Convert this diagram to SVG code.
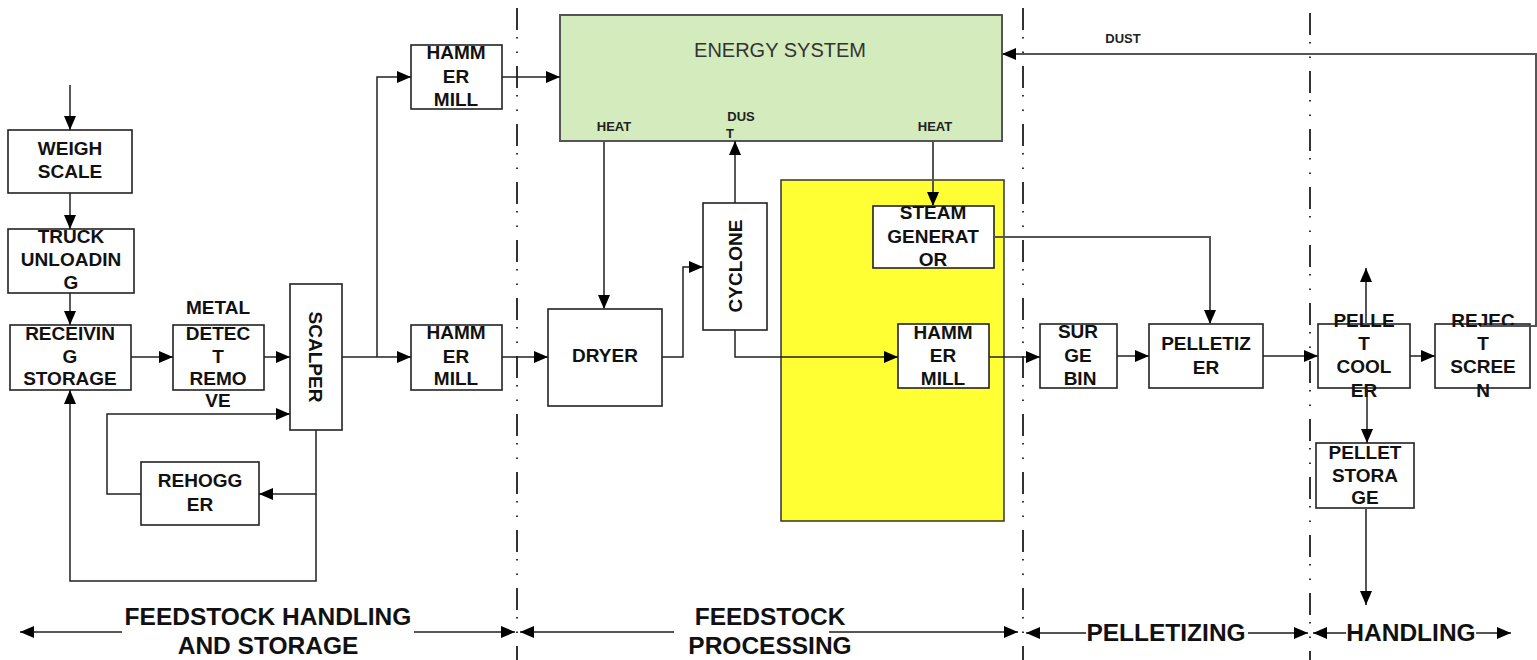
<svg xmlns="http://www.w3.org/2000/svg" width="1537" height="660" viewBox="0 0 1537 660">
<style>
.box{fill:#fff;stroke:#222;stroke-width:1.6}
.t{font-family:"Liberation Sans",Arial,sans-serif;font-weight:bold;font-size:19px;fill:#111;text-anchor:middle}
.s{font-family:"Liberation Sans",Arial,sans-serif;font-weight:bold;font-size:13px;fill:#222;text-anchor:middle}
.b{font-family:"Liberation Sans",Arial,sans-serif;font-weight:bold;font-size:24.5px;fill:#111;text-anchor:middle}
.c{fill:none;stroke:#222;stroke-width:1.5}
.g{fill:none;stroke:#555;stroke-width:2}
.div{fill:none;stroke:#333;stroke-width:2;stroke-dasharray:22 7 1.5 13 1.5 13}
</style>
<defs>
<marker id="a" viewBox="0 0 14 12" refX="14" refY="6" markerWidth="14" markerHeight="12" markerUnits="userSpaceOnUse" orient="auto">
<path d="M0,0 L14,6 L0,12 Z" fill="#000"/>
</marker>
</defs>
<rect width="1537" height="660" fill="#fff"/>

<g id="dividers">
<line class="div" x1="517" y1="8" x2="517" y2="660"/>
<line class="div" x1="1023" y1="8" x2="1023" y2="660"/>
<line class="div" x1="1310" y1="13" x2="1310" y2="660"/>
</g>

<g id="energy-system">
<rect x="560" y="15" width="442" height="126" fill="#d3ebbd" stroke="#555" stroke-width="2"/>
<text x="780" y="57" font-family="Liberation Sans,Arial,sans-serif" font-size="20" fill="#333" text-anchor="middle">ENERGY SYSTEM</text>
<text class="s" x="614" y="131">HEAT</text>
<text class="s" x="741" y="121">DUS</text>
<text class="s" x="730" y="138">T</text>
<text class="s" x="935" y="131">HEAT</text>
</g>

<g id="yellow-zone">
<rect x="781" y="180" width="223" height="341" fill="#ffff33" stroke="#333" stroke-width="1.5"/>
</g>

<g id="weigh-scale">
<rect class="box" x="8" y="130" width="124" height="63"/>
<text class="t" x="70" y="155">WEIGH</text>
<text class="t" x="70" y="178">SCALE</text>
</g>
<g id="truck-unloading">
<rect class="box" x="8" y="229" width="126" height="64"/>
<text class="t" x="71" y="243">TRUCK</text>
<text class="t" x="71" y="266">UNLOADIN</text>
<text class="t" x="71" y="289">G</text>
</g>
<g id="receiving-storage">
<rect class="box" x="10" y="325" width="121" height="65"/>
<text class="t" x="70" y="340">RECEIVIN</text>
<text class="t" x="70" y="363">G</text>
<text class="t" x="70" y="385">STORAGE</text>
</g>
<g id="metal-detect">
<rect class="box" x="173" y="325" width="91" height="65"/>
<text class="t" x="218" y="314">METAL</text>
<text class="t" x="218" y="340">DETEC</text>
<text class="t" x="218" y="363">T</text>
<text class="t" x="218" y="385">REMO</text>
<text class="t" x="218" y="407">VE</text>
</g>
<g id="scalper">
<rect class="box" x="290" y="284" width="52" height="146"/>
<text class="t" transform="translate(309,357) rotate(90)" x="0" y="0">SCALPER</text>
</g>
<g id="hammer-mill-top">
<rect class="box" x="411" y="45" width="91" height="64"/>
<text class="t" x="456" y="59">HAMM</text>
<text class="t" x="456" y="83">ER</text>
<text class="t" x="456" y="106">MILL</text>
</g>
<g id="hammer-mill-mid">
<rect class="box" x="411" y="325" width="91" height="65"/>
<text class="t" x="456" y="339">HAMM</text>
<text class="t" x="456" y="363">ER</text>
<text class="t" x="456" y="385">MILL</text>
</g>
<g id="rehogger">
<rect class="box" x="141" y="462" width="118" height="63"/>
<text class="t" x="200" y="487">REHOGG</text>
<text class="t" x="200" y="511">ER</text>
</g>
<g id="dryer">
<rect class="box" x="548" y="309" width="114" height="97"/>
<text class="t" x="605" y="362">DRYER</text>
</g>
<g id="cyclone">
<rect class="box" x="703" y="203" width="64" height="127"/>
<text class="t" transform="translate(742,266) rotate(-90)" x="0" y="0">CYCLONE</text>
</g>
<g id="steam-generator">
<rect class="box" x="873" y="206" width="121" height="62"/>
<text class="t" x="933" y="219">STEAM</text>
<text class="t" x="933" y="243">GENERAT</text>
<text class="t" x="933" y="266">OR</text>
</g>
<g id="hammer-mill-yellow">
<rect class="box" x="898" y="324" width="91" height="64"/>
<text class="t" x="943" y="339">HAMM</text>
<text class="t" x="943" y="362">ER</text>
<text class="t" x="943" y="385">MILL</text>
</g>
<g id="surge-bin">
<rect class="box" x="1040" y="324" width="77" height="64"/>
<text class="t" x="1078" y="338">SUR</text>
<text class="t" x="1078" y="362">GE</text>
<text class="t" x="1080" y="385">BIN</text>
</g>
<g id="pelletizer">
<rect class="box" x="1149" y="324" width="114" height="64"/>
<text class="t" x="1206" y="350">PELLETIZ</text>
<text class="t" x="1206" y="374">ER</text>
</g>
<g id="pellet-cooler">
<rect class="box" x="1318" y="324" width="92" height="64"/>
<text class="t" x="1364" y="327">PELLE</text>
<text class="t" x="1364" y="350">T</text>
<text class="t" x="1364" y="373">COOL</text>
<text class="t" x="1364" y="397">ER</text>
</g>
<g id="reject-screen">
<rect class="box" x="1435" y="324" width="95" height="64"/>
<text class="t" x="1483" y="327">REJEC</text>
<text class="t" x="1483" y="350">T</text>
<text class="t" x="1483" y="373">SCREE</text>
<text class="t" x="1483" y="397">N</text>
</g>
<g id="pellet-storage">
<rect class="box" x="1316" y="443" width="98" height="65"/>
<text class="t" x="1365" y="459">PELLET</text>
<text class="t" x="1365" y="482">STORA</text>
<text class="t" x="1365" y="504">GE</text>
</g>

<g id="connectors">
<path class="c" d="M70,85 V130" marker-end="url(#a)"/>
<path class="c" d="M70,193 V229" marker-end="url(#a)"/>
<path class="c" d="M70,293 V325" marker-end="url(#a)"/>
<path class="c" d="M131,357 H173" marker-end="url(#a)"/>
<path class="c" d="M264,357 H290" marker-end="url(#a)"/>
<path class="c" d="M342,357 H411" marker-end="url(#a)"/>
<path class="c" d="M377,357 V77 H411" marker-end="url(#a)"/>
<path class="c" d="M141,494 H107 V414 H290" marker-end="url(#a)"/>
<path class="c" d="M316,430 V494 H259" marker-end="url(#a)"/>
<path class="c" d="M316,494 V581 H70 V390" marker-end="url(#a)"/>
<path class="c" d="M502,77 H560" marker-end="url(#a)"/>
<path class="c" d="M502,357 H548" marker-end="url(#a)"/>
<path class="g" d="M604,141 V309" marker-end="url(#a)"/>
<path class="c" d="M662,357 H683 V267 H703" marker-end="url(#a)"/>
<path class="c" d="M735,203 V141" marker-end="url(#a)"/>
<path class="c" d="M735,330 V357 H898" marker-end="url(#a)"/>
<path class="g" d="M933,141 V206" marker-end="url(#a)"/>
<path class="g" d="M994,237 H1210 V324" marker-end="url(#a)"/>
<path class="c" d="M989,357 H1040" marker-end="url(#a)"/>
<path class="c" d="M1117,356 H1149" marker-end="url(#a)"/>
<path class="c" d="M1263,356 H1318" marker-end="url(#a)"/>
<path class="c" d="M1410,356 H1435" marker-end="url(#a)"/>
<path class="g" d="M1366,324 V268" marker-end="url(#a)"/>
<path class="c" d="M1367,388 V443" marker-end="url(#a)"/>
<path class="g" d="M1366,508 V605" marker-end="url(#a)"/>
<path class="g" d="M1481,326 H1536 V54 H1002" marker-end="url(#a)"/>
<text class="s" x="1123" y="43">DUST</text>
</g>

<g id="section-labels">
<path class="c" d="M122,632 H20" marker-end="url(#a)"/>
<path class="c" d="M414,632 H515" marker-end="url(#a)"/>
<text class="b" x="268" y="625">FEEDSTOCK HANDLING</text>
<text class="b" x="268" y="654">AND STORAGE</text>
<path class="g" d="M674,632 H520" marker-end="url(#a)"/>
<path class="g" d="M829,632 H1018" marker-end="url(#a)"/>
<text class="b" x="770" y="625">FEEDSTOCK</text>
<text class="b" x="770" y="654">PROCESSING</text>
<path class="g" d="M1086,633 H1026" marker-end="url(#a)"/>
<path class="g" d="M1248,633 H1308" marker-end="url(#a)"/>
<text class="b" x="1166" y="641">PELLETIZING</text>
<path class="g" d="M1346,633 H1313" marker-end="url(#a)"/>
<path class="g" d="M1476,633 H1511" marker-end="url(#a)"/>
<text class="b" x="1411" y="641">HANDLING</text>
</g>
</svg>
